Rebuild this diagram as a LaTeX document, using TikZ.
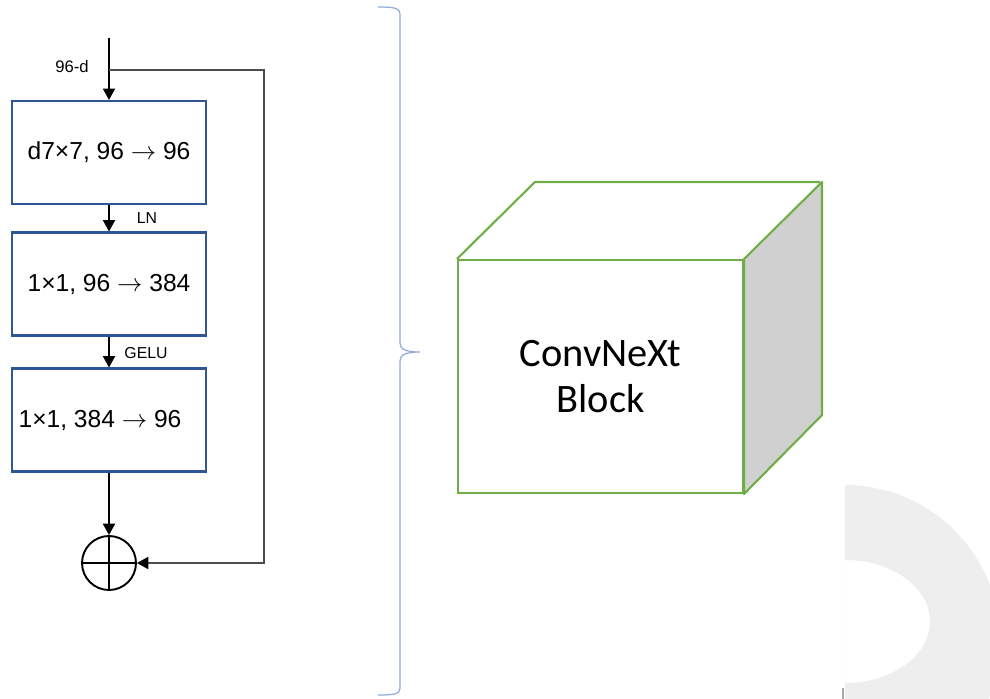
\documentclass[tikz,border=0pt]{standalone}
\usepackage{fontspec}
\setmainfont{Liberation Sans}
\newfontfamily\blockfont{Carlito}
\usetikzlibrary{arrows.meta}

\definecolor{boxblue}{HTML}{2F5597}
\definecolor{bracecol}{HTML}{8FAADC}
\definecolor{cubegreen}{HTML}{70AD47}
\definecolor{sidegray}{HTML}{D0D0D0}
\definecolor{markgray}{HTML}{EEEEEE}

\begin{document}
\begin{tikzpicture}[x=0.02cm, y=-0.02cm,
    layer/.style={draw=boxblue, line width=1.2pt, minimum width=3.88cm, minimum height=2.06cm, font=\fontsize{14}{17}\selectfont},
    tag/.style={inner sep=1pt, font=\fontsize{9}{11}\selectfont},
    flow/.style={-{Triangle[width=7pt, length=6.5pt, black]}, line width=0.6pt},
    skipline/.style={flow, draw=black!70},
    face/.style={draw=cubegreen, line width=1.2pt, minimum width=5.7cm, minimum height=4.66cm, align=center, font=\blockfont\fontsize{23}{26}\selectfont},
    cubeline/.style={draw=cubegreen, line width=1.2pt, line join=round}]

    \useasboundingbox (0,0) rectangle (990,699);

    % Block diagram
    % Nodes
    \coordinate (in) at (109,38);
    \coordinate (split) at (109,70);
    \coordinate (skip) at (264,70);
    \node[layer] (dwconv) at (109,152.5) {d7×7, 96 $\rightarrow$ 96};
    \node[layer] (expand) at (109,284) {1×1, 96 $\rightarrow$ 384};
    \node[layer] (reduce) at (109,420) {1×1, 384 $\rightarrow$ 96\hspace*{0.36cm}};
    \node[circle, draw, line width=1.1pt, minimum size=1.08cm] (add) at (109,563) {};
    \node[tag, font=\fontsize{9.5}{11}\selectfont] (dim) at (72,67) {96-d};
    \node[tag] (ln) at (147,218) {LN};
    \node[tag] (gelu) at (146,353) {GELU};

    % Edges
    \draw[flow] (in) -- (dwconv);
    \draw[flow] (dwconv) -- (expand);
    \draw[flow] (expand) -- (reduce);
    \draw[flow] (reduce) -- (add);
    \draw[skipline] (split) -- (skip) |- (add);
    \draw[line width=1.1pt] (add.north) -- (add.south) (add.west) -- (add.east);

    % Brace
    \draw[bracecol, line width=0.7pt]
        (378,7) .. controls (395,7) and (400,8) .. (400,15) -- (400,343)
        .. controls (400,349) and (405,352) .. (420,352)
        .. controls (405,352) and (400,355) .. (400,361) -- (400,688)
        .. controls (400,694) and (395,695) .. (378,695);

    % Cube
    \node[face] (front) at (600.5,376.5) {ConvNeXt\\Block};
    \filldraw[cubeline, fill=sidegray] (front.north east) -- ++(78,-77) -- ++(0,233) -- (front.south east) -- cycle;
    \draw[cubeline] (front.north west) -- ++(78,-77) -- ++(285,0);

    % Mark in the corner
    \begin{scope}
        \clip (0,0) rectangle (990,699);
        \fill[markgray, even odd rule]
            (845,485) arc[start angle=90, end angle=-90, radius=3.1cm] -- cycle
            (845,560) arc[start angle=90, end angle=-90, x radius=1.7cm, y radius=1.23cm] -- cycle;
        \draw[black!35, line width=1pt] (843,688) -- (843,699);
    \end{scope}
\end{tikzpicture}
\end{document}
